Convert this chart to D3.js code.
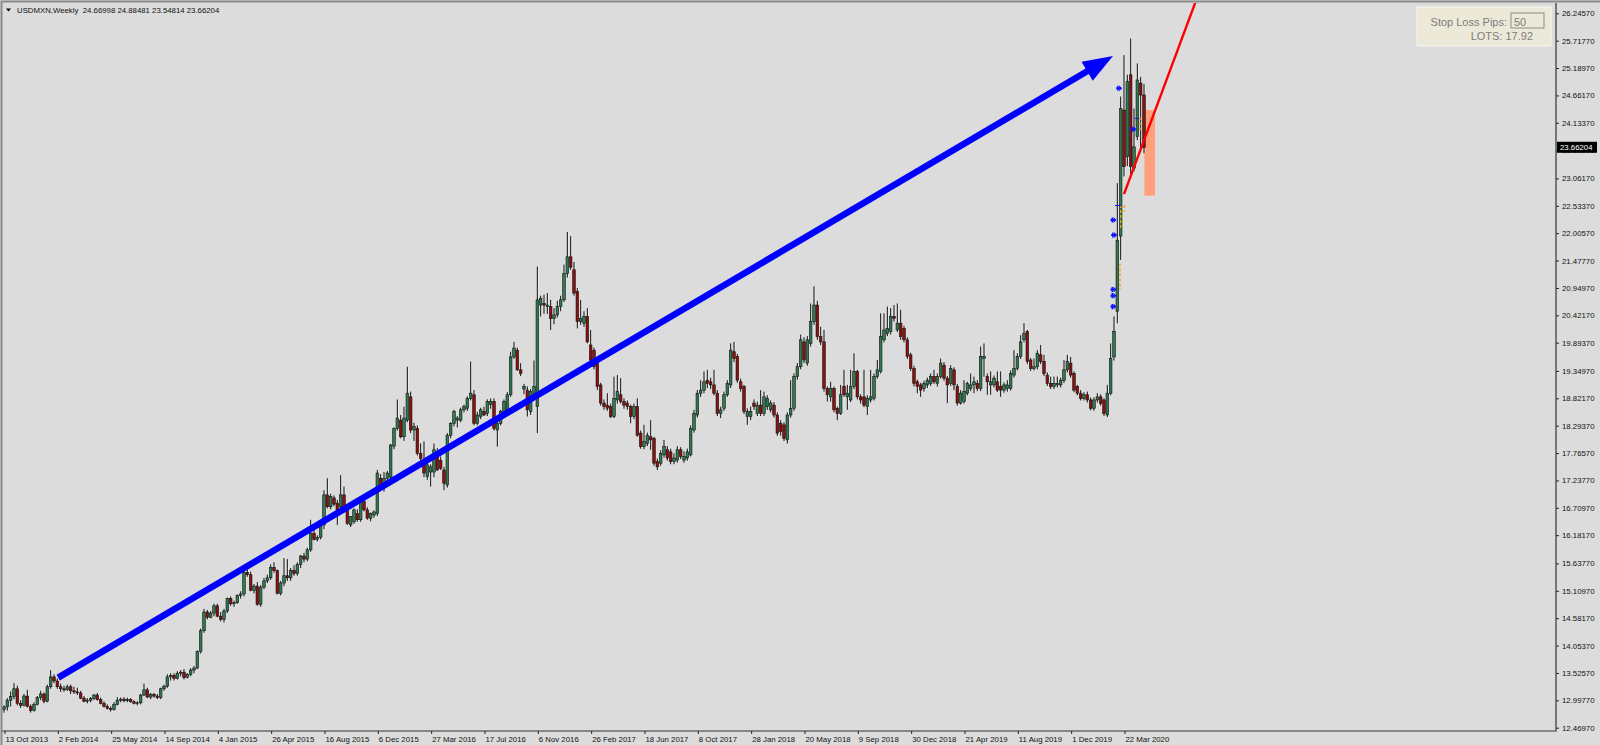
<!DOCTYPE html>
<html>
<head>
<meta charset="utf-8">
<script src="https://cdn.jsdelivr.net/npm/d3@7"></script>
<style>
  body { margin: 0; background: #dcdcdc; }
  svg { display: block; }
  text { font-family: "Liberation Sans", Arial, sans-serif; }
</style>
</head>
<body>
<div id="chart"></div>
<script>
const symbolName = "USDMXN,Weekly";
const lastQuote = ["24.66998", "24.88481", "23.54814", "23.66204"];
const firstWeek = "13 Oct 2013";

const dateTicks = [
  "13 Oct 2013", "2 Feb 2014", "25 May 2014", "14 Sep 2014", "4 Jan 2015",
  "26 Apr 2015", "16 Aug 2015", "6 Dec 2015", "27 Mar 2016", "17 Jul 2016",
  "6 Nov 2016", "26 Feb 2017", "18 Jun 2017", "8 Oct 2017", "28 Jan 2018",
  "20 May 2018", "9 Sep 2018", "30 Dec 2018", "21 Apr 2019", "11 Aug 2019",
  "1 Dec 2019", "22 Mar 2020",
];

const priceTicks = [
  "26.24570", "25.71770", "25.18970", "24.66170", "24.13370", "23.60570",
  "23.06170", "22.53370", "22.00570", "21.47770", "20.94970", "20.42170",
  "19.89370", "19.34970", "18.82170", "18.29370", "17.76570", "17.23770",
  "16.70970", "16.18170", "15.63770", "15.10970", "14.58170", "14.05370",
  "13.52570", "12.99770", "12.46970",
];

// weekly bars: [open, high, low, close]
const candles2013 = [
  [12.82,12.90,12.76,12.87],[12.87,13.04,12.80,13.00],[13.00,13.17,12.88,13.07],
  [13.07,13.33,13.02,13.22],[13.22,13.28,12.90,12.94],[12.94,13.00,12.85,12.90],
  [12.90,13.12,12.88,13.08],[13.08,13.20,12.86,12.88],[12.88,12.92,12.76,12.80],
  [12.80,12.96,12.78,12.92],[12.92,13.08,12.90,13.05],[13.05,13.18,13.00,13.12],
];
const candles2014 = [
  [13.12,13.15,12.94,12.98],[12.98,13.30,12.96,13.26],[13.26,13.58,13.22,13.45],
  [13.45,13.50,13.33,13.37],[13.37,13.42,13.22,13.26],[13.26,13.32,13.16,13.22],
  [13.22,13.28,13.16,13.20],[13.20,13.30,13.18,13.26],[13.26,13.30,13.12,13.18],
  [13.18,13.26,13.12,13.16],[13.16,13.24,13.10,13.14],[13.14,13.18,13.02,13.04],
  [13.04,13.08,12.96,12.98],[12.98,13.04,12.94,13.00],[13.00,13.06,12.96,13.03],
  [13.03,13.12,13.00,13.10],[13.10,13.14,12.99,13.01],[13.01,13.05,12.92,12.94],
  [12.94,12.98,12.86,12.88],[12.88,12.92,12.82,12.84],[12.84,12.88,12.78,12.82],
  [12.82,12.96,12.80,12.92],[12.92,13.06,12.90,13.00],[13.00,13.05,12.96,13.02],
  [13.02,13.06,12.96,12.99],[12.99,13.05,12.96,13.01],[13.01,13.04,12.95,12.97],
  [12.97,13.00,12.92,12.94],[12.94,12.98,12.90,12.95],[12.95,13.12,12.92,13.10],
  [13.10,13.32,13.08,13.20],[13.20,13.24,13.04,13.06],[13.06,13.14,13.02,13.11],
  [13.11,13.14,13.05,13.08],[13.08,13.12,13.02,13.05],[13.05,13.24,13.02,13.22],
  [13.22,13.30,13.18,13.27],[13.27,13.50,13.24,13.45],[13.45,13.52,13.38,13.48],
  [13.48,13.52,13.38,13.42],[13.42,13.56,13.40,13.52],[13.52,13.58,13.46,13.54],
  [13.54,13.60,13.40,13.44],[13.44,13.52,13.42,13.50],[13.50,13.62,13.46,13.58],
  [13.58,13.66,13.52,13.62],[13.62,13.96,13.60,13.94],[13.94,14.38,13.90,14.34],
  [14.34,14.76,14.30,14.70],[14.70,14.74,14.56,14.60],[14.60,14.72,14.58,14.68],
  [14.68,14.86,14.62,14.82],
];
const candles2015 = [
  [14.82,14.86,14.60,14.62],[14.62,14.70,14.52,14.56],[14.56,14.76,14.50,14.72],
  [14.72,14.98,14.68,14.96],[14.96,15.00,14.82,14.86],[14.86,14.92,14.80,14.88],
  [14.88,15.04,14.86,15.02],[15.02,15.10,14.96,15.05],[15.05,15.50,15.00,15.46],
  [15.46,15.52,15.38,15.42],[15.42,15.48,15.10,15.12],[15.12,15.24,15.06,15.20],
  [15.20,15.28,14.82,14.85],[14.85,15.22,14.80,15.18],[15.18,15.36,15.14,15.30],
  [15.30,15.42,15.26,15.36],[15.36,15.62,15.32,15.56],[15.56,15.66,15.46,15.50],
  [15.50,15.52,15.04,15.06],[15.06,15.30,15.02,15.26],[15.26,15.74,15.20,15.40],
  [15.40,15.72,15.30,15.36],[15.36,15.55,15.30,15.50],[15.50,15.60,15.40,15.44],
  [15.44,15.66,15.40,15.62],[15.62,15.80,15.55,15.78],[15.78,15.84,15.66,15.72],
  [15.72,15.94,15.68,15.90],[15.90,16.48,15.86,16.22],[16.22,16.30,16.08,16.10],
  [16.10,16.18,16.06,16.14],[16.14,16.40,16.10,16.38],[16.38,17.05,16.30,16.96],
  [16.96,17.28,16.70,16.73],[16.73,16.98,16.68,16.93],[16.90,16.95,16.74,16.78],
  [16.80,16.86,16.38,16.67],[16.73,17.34,16.65,16.96],[16.96,17.12,16.62,16.67],
  [16.67,16.72,16.38,16.41],[16.38,16.55,16.34,16.54],[16.44,16.70,16.40,16.67],
  [16.60,16.68,16.44,16.48],[16.48,16.86,16.44,16.83],[16.83,16.90,16.64,16.67],
  [16.67,16.72,16.48,16.51],[16.51,16.62,16.45,16.60],[16.57,16.66,16.52,16.63],
  [16.60,17.44,16.55,17.38],[17.28,17.36,17.08,17.12],[17.14,17.40,17.02,17.28],
  [17.28,17.42,17.22,17.38],
];
const candles2016 = [
  [17.30,17.94,17.25,17.92],[17.90,18.26,17.84,18.24],[18.24,18.80,18.20,18.44],
  [18.40,18.50,18.05,18.08],[18.08,18.66,18.00,18.44],[18.40,19.43,18.36,18.92],
  [18.85,18.95,18.15,18.21],[18.21,18.35,18.00,18.28],[18.24,18.30,17.72,17.76],
  [17.76,17.95,17.60,17.66],[17.60,17.99,17.30,17.38],[17.31,17.60,17.25,17.54],
  [17.40,17.55,17.12,17.50],[17.40,17.95,17.30,17.83],[17.80,17.86,17.42,17.44],
  [17.62,17.70,17.44,17.47],[17.44,17.50,17.05,17.18],[17.15,18.15,17.10,18.11],
  [18.11,18.36,18.05,18.34],[18.34,18.60,18.28,18.57],[18.40,18.48,18.26,18.44],
  [18.40,18.64,18.36,18.60],[18.60,18.70,18.55,18.66],[18.63,18.86,18.58,18.82],
  [18.82,19.53,18.78,18.92],[18.89,18.98,18.30,18.34],[18.34,18.56,18.30,18.50],
  [18.47,18.64,18.42,18.60],[18.57,18.66,18.48,18.50],[18.53,18.80,18.48,18.76],
  [18.70,18.82,18.62,18.76],[18.76,18.82,18.20,18.24],[18.21,18.40,17.89,18.34],
  [18.34,18.60,18.30,18.57],[18.53,18.80,18.48,18.76],[18.60,18.94,18.55,18.89],
  [18.89,19.72,18.85,19.62],[19.62,19.91,19.58,19.79],[19.75,19.80,19.35,19.37],
  [19.37,19.50,19.25,19.30],[19.00,19.10,18.90,19.05],[18.98,19.05,18.47,18.60],
  [18.57,19.00,18.50,18.95],[18.92,19.55,18.85,19.05],[18.66,21.36,18.15,20.72],
  [20.62,20.80,20.40,20.75],[20.65,20.82,20.45,20.62],[20.59,20.85,20.45,20.62],
  [20.59,20.72,20.14,20.36],[20.36,20.56,20.25,20.43],[20.43,20.70,20.38,20.59],
  [20.59,20.80,20.50,20.72],
];
const candles2017 = [
  [20.72,21.40,20.68,21.23],[21.23,22.03,21.15,21.55],[21.55,21.95,21.30,21.35],
  [21.30,21.45,20.80,20.85],[20.88,20.95,20.17,20.30],[20.30,20.72,20.24,20.36],
  [20.27,20.50,20.20,20.40],[20.40,20.56,19.88,19.91],[19.85,20.14,19.52,19.56],
  [19.75,19.80,19.38,19.43],[19.50,19.55,18.98,19.05],[19.08,19.12,18.68,18.73],
  [18.73,18.80,18.60,18.66],[18.69,18.92,18.58,18.63],[18.66,18.72,18.44,18.47],
  [18.47,19.24,18.44,18.82],[18.79,19.27,18.72,18.95],[18.89,19.21,18.72,18.76],
  [18.76,18.82,18.62,18.69],[18.73,18.78,18.60,18.66],[18.66,18.70,18.34,18.47],
  [18.47,18.72,18.42,18.66],[18.66,18.82,18.08,18.11],[18.15,18.20,17.85,17.89],
  [17.89,18.31,17.84,17.99],[17.95,18.16,17.90,18.11],[18.08,18.40,17.83,18.02],
  [18.05,18.08,17.52,17.57],[17.60,17.66,17.44,17.50],[17.57,17.82,17.52,17.76],
  [17.73,18.02,17.68,17.89],[17.83,17.90,17.62,17.67],[17.79,17.85,17.55,17.60],
  [17.60,17.76,17.55,17.67],[17.63,17.90,17.58,17.83],[17.83,17.88,17.65,17.70],
  [17.63,17.80,17.58,17.70],[17.67,17.85,17.62,17.79],[17.73,18.30,17.70,18.24],
  [18.21,18.60,18.16,18.53],[18.50,18.98,18.45,18.92],[18.92,19.17,18.85,18.98],
  [18.98,19.34,18.92,19.14],[19.17,19.37,19.02,19.11],[19.14,19.22,19.00,19.08],
  [19.08,19.37,18.88,18.92],[18.92,18.98,18.48,18.53],[18.53,18.66,18.44,18.60],
  [18.63,18.95,18.58,18.89],[18.89,19.17,18.85,19.11],[19.08,19.88,19.02,19.75],
  [19.72,19.91,19.52,19.59],[19.63,19.68,19.12,19.17],
];
const candles2018 = [
  [19.14,19.20,18.95,19.01],[19.05,19.08,18.52,18.57],[18.47,18.63,18.31,18.57],
  [18.47,18.66,18.40,18.57],[18.73,18.80,18.60,18.66],[18.53,18.76,18.48,18.69],
  [18.69,18.98,18.48,18.53],[18.53,18.95,18.48,18.85],[18.66,18.88,18.60,18.82],
  [18.60,18.78,18.55,18.73],[18.69,18.75,18.45,18.50],[18.50,18.55,18.10,18.15],
  [18.34,18.40,18.10,18.18],[18.31,18.36,18.00,18.05],[18.02,18.55,17.95,18.50],
  [18.50,19.17,18.45,18.63],[18.63,19.30,18.58,19.24],[19.24,19.50,19.18,19.43],
  [19.43,20.05,19.38,19.95],[19.91,20.00,19.50,19.56],[19.50,20.02,19.45,19.95],
  [19.88,20.65,19.82,20.30],[20.30,20.98,20.24,20.62],[20.62,20.70,19.95,20.01],
  [20.01,20.20,19.85,19.91],[19.91,20.14,18.95,19.01],[19.01,19.05,18.76,18.89],
  [18.85,19.14,18.76,19.01],[19.01,19.05,18.55,18.60],[18.63,18.66,18.40,18.53],
  [18.53,19.08,18.50,18.89],[19.05,19.37,18.85,18.89],[18.85,19.08,18.60,18.92],
  [18.79,19.37,18.75,19.05],[19.05,19.69,19.00,19.34],[19.34,19.37,18.80,18.85],
  [18.85,18.90,18.72,18.79],[18.85,19.37,18.65,18.69],[18.66,18.88,18.50,18.82],
  [18.79,19.37,18.74,18.85],[18.82,19.30,18.78,19.24],[19.24,19.56,19.20,19.37],
  [19.34,20.46,19.30,20.01],[19.95,20.46,19.90,20.14],[20.07,20.59,20.02,20.17],
  [20.11,20.56,20.05,20.40],[20.40,20.62,20.30,20.36],[20.14,20.65,20.10,20.27],
  [20.27,20.53,19.95,20.01],[20.17,20.22,19.90,19.95],[19.95,20.00,19.58,19.63],
  [19.66,19.70,19.35,19.40],
];
const candles2019 = [
  [19.40,19.45,19.05,19.11],[19.14,19.18,18.92,19.05],[19.08,19.12,18.85,18.98],
  [19.01,19.16,18.95,19.11],[19.08,19.22,19.02,19.17],[19.11,19.30,19.06,19.24],
  [19.24,19.37,19.10,19.14],[19.11,19.30,19.05,19.24],[19.24,19.59,19.20,19.50],
  [19.46,19.52,19.16,19.21],[19.21,19.25,18.73,19.08],[19.11,19.46,19.06,19.40],
  [19.37,19.42,18.98,19.08],[19.05,19.10,18.68,18.73],[18.73,18.98,18.70,18.92],
  [18.76,19.17,18.72,18.95],[18.92,19.14,18.88,19.11],[19.01,19.30,18.96,19.08],
  [19.08,19.24,18.92,19.14],[19.11,19.17,18.96,19.01],[19.01,19.82,18.96,19.63],
  [19.59,19.88,19.24,19.63],[19.24,19.30,18.89,19.14],[19.08,19.34,18.89,19.14],
  [19.08,19.26,19.03,19.21],[19.14,19.34,18.94,18.98],[19.05,19.34,18.85,18.98],
  [18.98,19.13,18.93,19.08],[19.01,19.17,18.95,19.08],[19.01,19.36,18.97,19.30],
  [19.27,19.75,19.22,19.40],[19.40,19.69,19.36,19.63],[19.63,20.04,19.58,19.91],
  [19.95,20.27,19.90,20.07],[20.11,20.14,19.48,19.53],[19.56,19.60,19.35,19.40],
  [19.40,19.59,19.36,19.43],[19.43,19.75,19.38,19.69],[19.66,19.85,19.48,19.53],
  [19.53,19.66,19.25,19.30],[19.27,19.32,19.06,19.11],[19.11,19.24,19.00,19.05],
  [19.05,19.24,19.00,19.11],[19.08,19.24,19.03,19.11],[19.08,19.22,19.03,19.17],
  [19.17,19.56,19.12,19.37],[19.37,19.66,19.32,19.53],[19.50,19.62,19.22,19.27],
  [19.30,19.34,18.94,18.98],[19.05,19.08,18.88,18.92],[18.92,18.98,18.78,18.82],
  [18.82,18.94,18.78,18.89],
];
const candles2020 = [
  [18.89,18.95,18.74,18.79],[18.79,18.84,18.59,18.63],[18.63,18.84,18.58,18.79],
  [18.79,18.92,18.74,18.85],[18.85,18.90,18.68,18.72],[18.79,18.82,18.48,18.53],
  [18.50,19.08,18.46,18.92],[18.92,19.88,18.88,19.59],[19.62,20.40,19.55,20.11],
  [20.50,22.97,20.27,21.87],[21.95,24.64,21.49,24.41],[24.38,25.44,23.10,23.29],
  [23.48,25.06,23.30,24.93],[25.06,25.76,23.15,23.29],[23.26,24.41,23.20,23.67],
  [23.87,25.28,23.80,24.96],[24.90,25.02,23.67,24.67],
  [24.66998,24.88481,23.54814,23.66204],
];

// drawn objects, anchored at [week number, price]
const trendArrow = [[16.26, 13.436], [332.7, 25.422]];
const redRay = [[336.0, 22.76], [354.3, 25.92]];
const salmonBox = [[342.1, 24.38], [345.3, 22.73]];
const tradeArrows = [
  [335.3, 24.80], [339.6, 24.01], [333.6, 22.26], [333.8, 21.97],
  [333.6, 20.92], [333.6, 20.80], [333.6, 20.59],
];
const tradeDashes = [
  [[335.0, 22.55], [335.0, 22.07]],
  [[334.8, 21.42], [334.8, 20.91]],
  [[340.8, 24.24], [340.8, 23.96]],
  [[336.1, 22.55], [336.1, 22.42]],
];
const blueLevels = [[[333.3, 22.54], [335.3, 22.54]], [[339.2, 24.22], [340.5, 24.22]]];

const stopLossPips = "50";
const lots = "17.92";

class CandleChart {
  constructor(element, data) {
    this.width = 1600;
    this.height = 745;
    this.plot = { left: 2, right: 1556, top: 3, bottom: 731 };
    this.data = data;
    this.parseDate = d3.utcParse("%d %b %Y");
    this.start = this.parseDate(firstWeek);

    this.svg = d3
      .select(element)
      .append("svg")
      .attr("width", this.width)
      .attr("height", this.height);

    this.x = d3
      .scaleUtc()
      .domain([this.start, this.parseDate(dateTicks[dateTicks.length - 1])])
      .range([4, 1124]);
    this.y = d3
      .scaleLinear()
      .domain([+priceTicks[priceTicks.length - 1], +priceTicks[0]])
      .range([727.7, 13.3]);

    this.createChart();
  }

  weekDate(n) {
    return new Date(this.start.getTime() + n * 7 * 864e5);
  }

  px(point) {
    return [this.x(this.weekDate(point[0])), this.y(point[1])];
  }

  createChart() {
    const svg = this.svg;
    const p = this.plot;

    svg.append("rect").attr("width", this.width).attr("height", this.height).attr("fill", "#dcdcdc");

    svg.append("defs").append("clipPath").attr("id", "plot-clip")
      .append("rect")
      .attr("x", p.left).attr("y", p.top)
      .attr("width", p.right - p.left).attr("height", p.bottom - p.top);

    const plotG = svg.append("g").attr("clip-path", "url(#plot-clip)");

    // salmon zone behind the bars
    const b0 = this.px(salmonBox[0]);
    const b1 = this.px(salmonBox[1]);
    plotG.append("rect")
      .attr("x", b0[0]).attr("y", b0[1])
      .attr("width", b1[0] - b0[0]).attr("height", b1[1] - b0[1])
      .attr("fill", "#ffa07a");

    const bars = this.data.map((d, i) => ({
      date: this.weekDate(i), open: d[0], high: d[1], low: d[2], close: d[3],
    }));
    const bodyW = 2.6;

    // wicks with light edge
    plotG.selectAll(".wick-light")
      .data(bars)
      .join("line")
      .attr("x1", (d) => this.x(d.date) + 1.1)
      .attr("x2", (d) => this.x(d.date) + 1.1)
      .attr("y1", (d) => this.y(d.high))
      .attr("y2", (d) => this.y(d.low))
      .attr("stroke", "#f4f4f4")
      .attr("stroke-opacity", 0.55)
      .attr("stroke-width", 0.9);

    plotG.selectAll(".wick")
      .data(bars)
      .join("line")
      .attr("x1", (d) => this.x(d.date))
      .attr("x2", (d) => this.x(d.date))
      .attr("y1", (d) => this.y(d.high))
      .attr("y2", (d) => this.y(d.low))
      .attr("stroke", "#111")
      .attr("stroke-width", 1);

    // bodies
    plotG.selectAll(".body")
      .data(bars)
      .join("rect")
      .attr("x", (d) => this.x(d.date) - bodyW / 2)
      .attr("y", (d) => this.y(Math.max(d.open, d.close)))
      .attr("width", bodyW)
      .attr("height", (d) => Math.max(0.8, Math.abs(this.y(d.open) - this.y(d.close))))
      .attr("fill", (d) => (d.close >= d.open ? "#2f7a50" : "#8e0f0f"))
      .attr("stroke", "#111")
      .attr("stroke-width", 0.6);

    // trade marks
    tradeDashes.forEach((seg) => {
      const a = this.px(seg[0]);
      const c = this.px(seg[1]);
      plotG.append("line")
        .attr("x1", a[0]).attr("y1", a[1]).attr("x2", c[0]).attr("y2", c[1])
        .attr("stroke", "#f0a800").attr("stroke-width", 1.3)
        .attr("stroke-dasharray", "3,2");
    });
    blueLevels.forEach((seg) => {
      const a = this.px(seg[0]);
      const c = this.px(seg[1]);
      plotG.append("line")
        .attr("x1", a[0]).attr("y1", a[1]).attr("x2", c[0]).attr("y2", c[1])
        .attr("stroke", "#1010ff").attr("stroke-width", 1);
    });
    plotG.selectAll(".trade")
      .data(tradeArrows)
      .join("path")
      .attr("transform", (d) => `translate(${this.px(d)[0] - 3},${this.px(d)[1]})`)
      .attr("d", "M-2.5,-1H0.5V-3L3.5,0L0.5,3V1H-2.5Z M-1.5,-2.6H0V2.6H-1.5Z")
      .attr("fill", "#1010ff");

    // trend arrow
    const s = this.px(trendArrow[0]);
    const t = this.px(trendArrow[1]);
    const len = Math.hypot(t[0] - s[0], t[1] - s[1]);
    const ux = (t[0] - s[0]) / len;
    const uy = (t[1] - s[1]) / len;
    const headLen = 30;
    const headHalf = 11;
    const bx = t[0] - ux * headLen;
    const by = t[1] - uy * headLen;
    plotG.append("line")
      .attr("x1", s[0]).attr("y1", s[1])
      .attr("x2", bx + ux * 2).attr("y2", by + uy * 2)
      .attr("stroke", "#0000ff").attr("stroke-width", 6.5);
    plotG.append("path")
      .attr("d", `M${t[0]},${t[1]}L${bx - uy * headHalf},${by + ux * headHalf}L${bx + uy * headHalf},${by - ux * headHalf}Z`)
      .attr("fill", "#0000ff");

    // red ray
    const r0 = this.px(redRay[0]);
    const r1 = this.px(redRay[1]);
    const k = (r0[1] - p.top + 5) / (r0[1] - r1[1]);
    plotG.append("line")
      .attr("x1", r0[0]).attr("y1", r0[1])
      .attr("x2", r0[0] + (r1[0] - r0[0]) * k).attr("y2", r0[1] - (r0[1] - r1[1]) * k)
      .attr("stroke", "#ff0000").attr("stroke-width", 2.4);

    // X axis
    const xAxis = d3.axisBottom(this.x)
      .tickValues(dateTicks.map((d) => this.parseDate(d)))
      .tickFormat(d3.utcFormat("%-d %b %Y"))
      .tickSize(3)
      .tickPadding(2);
    const xg = svg.append("g")
      .attr("transform", `translate(0,${p.bottom})`)
      .call(xAxis);
    xg.select(".domain").remove();
    xg.selectAll("line").attr("stroke", "#222").attr("transform", "translate(0.5,0)");
    xg.selectAll("text")
      .attr("text-anchor", "start")
      .attr("x", 1)
      .attr("fill", "#111")
      .style("font-size", "7.8px");

    // Y axis
    const yAxis = d3.axisRight(this.y)
      .tickValues(priceTicks.map(Number))
      .tickFormat(d3.format(".5f"))
      .tickSize(3)
      .tickPadding(3);
    const yg = svg.append("g")
      .attr("transform", `translate(${p.right},0)`)
      .call(yAxis);
    yg.select(".domain").remove();
    yg.selectAll("line").attr("stroke", "#222");
    yg.selectAll("text").attr("fill", "#111").style("font-size", "7.8px");

    // frame
    svg.append("path")
      .attr("d", `M${p.left},${p.bottom}H${p.right}V${p.top}`)
      .attr("fill", "none").attr("stroke", "#333").attr("stroke-width", 1.2);
    svg.append("path")
      .attr("d", `M1.5,${this.height}V1.5H${this.width}`)
      .attr("fill", "none").attr("stroke", "#8a8a8a").attr("stroke-width", 2);

    // current price label
    const lastY = this.y(+lastQuote[3]);
    svg.append("rect")
      .attr("x", p.right + 1).attr("y", lastY - 5.5)
      .attr("width", 40).attr("height", 11)
      .attr("fill", "#000");
    svg.append("text")
      .attr("x", p.right + 4).attr("y", lastY + 3)
      .attr("fill", "#fff").style("font-size", "7.8px")
      .text(lastQuote[3]);

    // header
    svg.append("path").attr("d", "M6,8.5H11L8.5,11.5Z").attr("fill", "#000");
    svg.append("text")
      .attr("x", 17).attr("y", 12.5)
      .attr("fill", "#111")
      .style("font-size", "7.8px")
      .style("white-space", "pre")
      .text(`${symbolName}  ${lastQuote.join(" ")}`);

    // stop loss panel
    const panel = svg.append("g").attr("transform", "translate(1417,7)");
    panel.append("rect")
      .attr("width", 134).attr("height", 39)
      .attr("fill", "#ece9d8").attr("stroke", "#f7f6f0").attr("stroke-width", 1);
    panel.append("rect")
      .attr("x", 94).attr("y", 6).attr("width", 33).attr("height", 15)
      .attr("fill", "#ece9d8").attr("stroke", "#8c8c8c").attr("stroke-width", 1);
    panel.append("text")
      .attr("x", 90).attr("y", 18.5).attr("text-anchor", "end")
      .attr("fill", "#7c7c7c").style("font-size", "11px")
      .text("Stop Loss Pips:");
    panel.append("text")
      .attr("x", 97).attr("y", 18.5)
      .attr("fill", "#7c7c7c").style("font-size", "11px")
      .text(stopLossPips);
    panel.append("text")
      .attr("x", 116).attr("y", 33).attr("text-anchor", "end")
      .attr("fill", "#7c7c7c").style("font-size", "11px")
      .text("LOTS: " + lots);
  }
}

const weekly = [].concat(
  candles2013, candles2014, candles2015, candles2016,
  candles2017, candles2018, candles2019, candles2020
);

new CandleChart(document.getElementById("chart"), weekly);
</script>
</body>
</html>
